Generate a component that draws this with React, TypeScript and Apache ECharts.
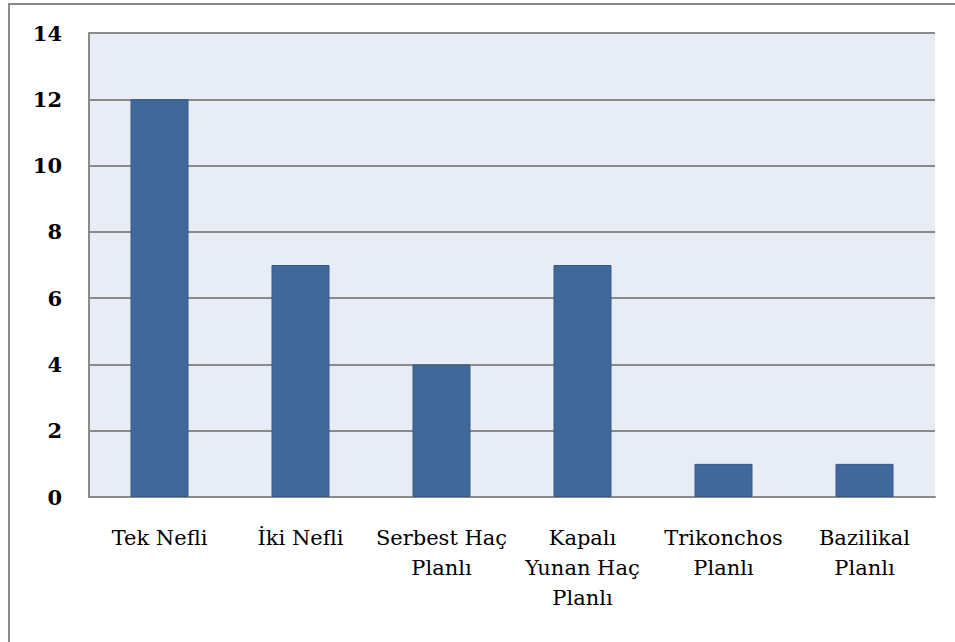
import React, { useEffect, useRef } from "react";
import * as echarts from "echarts";

// Plan types and building counts
const categories: string[] = [
  "Tek Nefli",
  "İki Nefli",
  "Serbest Haç\nPlanlı",
  "Kapalı\nYunan Haç\nPlanlı",
  "Trikonchos\nPlanlı",
  "Bazilikal\nPlanlı",
];
const counts: number[] = [12, 7, 4, 7, 1, 1];
const yTicks = { min: 0, max: 14, interval: 2 };

const FONT = "DejaVu Serif";

export default function App() {
  const ref = useRef<HTMLDivElement>(null);

  useEffect(() => {
    if (!ref.current) return;
    const chart = echarts.init(ref.current, undefined, { renderer: "svg" });
    chart.setOption({
      animation: false,
      backgroundColor: "#ffffff",
      textStyle: { fontFamily: FONT },
      graphic: [
        {
          type: "rect",
          shape: { x: 9, y: 4, width: 1000, height: 1000 },
          style: { fill: "none", stroke: "#8a8a8a", lineWidth: 2 },
          silent: true,
        },
      ],
      grid: {
        left: 89,
        top: 33,
        right: 20,
        bottom: 145,
        show: true,
        backgroundColor: "#E8ECF4",
        borderWidth: 0,
      },
      xAxis: {
        type: "category",
        data: categories,
        axisLine: { show: true, lineStyle: { color: "#8a8a8a", width: 2 } },
        axisTick: { show: false },
        axisLabel: {
          interval: 0,
          margin: 26,
          color: "#000",
          fontFamily: FONT,
          fontSize: 21,
          lineHeight: 30,
        },
      },
      yAxis: {
        type: "value",
        min: yTicks.min,
        max: yTicks.max,
        interval: yTicks.interval,
        axisLine: { show: true, lineStyle: { color: "#8a8a8a", width: 2 } },
        axisTick: { show: false },
        splitLine: { show: true, lineStyle: { color: "#8a8a8a", width: 2 } },
        axisLabel: {
          margin: 27,
          color: "#000",
          fontFamily: FONT,
          fontSize: 21,
          fontWeight: "bold",
        },
      },
      series: [
        {
          type: "bar",
          data: counts,
          barWidth: 58,
          itemStyle: {
            color: "#41689A",
            borderColor: "#36598a",
            borderWidth: 1,
          },
        },
      ],
    });
    return () => chart.dispose();
  }, []);

  return (
    <div
      ref={ref}
      style={{ position: "fixed", left: 0, top: 0, width: 955, height: 642 }}
    />
  );
}
